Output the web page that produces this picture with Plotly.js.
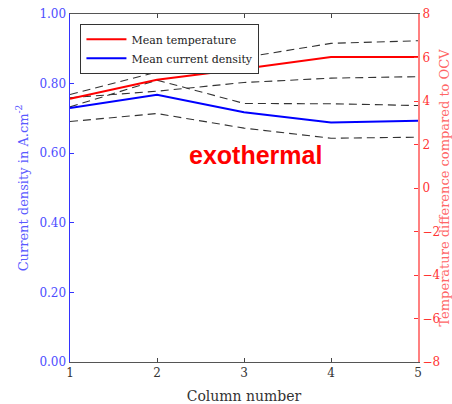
<!DOCTYPE html>
<html>
<head>
<meta charset="utf-8">
<script src="https://cdn.plot.ly/plotly-3.0.1.min.js"></script>
<style>
  html, body { margin: 0; padding: 0; background: #ffffff; }
  #chart { width: 452px; height: 404px; }
</style>
</head>
<body>
<div id="chart"></div>
<script>
// Column positions along the cell
const columns = [1, 2, 3, 4, 5];

// Mean current density (A.cm-2) with its upper / lower spread
const meanCurrent = [0.730, 0.768, 0.718, 0.688, 0.693];
const currentUpper = [0.733, 0.810, 0.743, 0.742, 0.737];
const currentLower = [0.691, 0.714, 0.672, 0.643, 0.646];

// Mean temperature difference vs OCV (K) with its upper / lower spread
const meanTemp = [4.10, 4.98, 5.48, 6.02, 6.02];
const tempUpper = [4.30, 5.33, 6.00, 6.65, 6.77];
const tempLower = [4.15, 4.45, 4.85, 5.05, 5.12];

const leftTicks = [0, 0.2, 0.4, 0.6, 0.8, 1.0];
const rightTicks = [-8, -6, -4, -2, 0, 2, 4, 6, 8];

const serif = "'DejaVu Serif', serif";
const dashStyle = { color: "#333333", width: 1.1, dash: "8px,5px" };

const traces = [
  { x: columns, y: tempUpper, yaxis: "y2", mode: "lines", line: dashStyle, showlegend: false, hoverinfo: "skip" },
  { x: columns, y: tempLower, yaxis: "y2", mode: "lines", line: dashStyle, showlegend: false, hoverinfo: "skip" },
  { x: columns, y: currentUpper, yaxis: "y", mode: "lines", line: dashStyle, showlegend: false, hoverinfo: "skip" },
  { x: columns, y: currentLower, yaxis: "y", mode: "lines", line: dashStyle, showlegend: false, hoverinfo: "skip" },
  { x: columns, y: meanTemp, yaxis: "y2", mode: "lines", name: "Mean temperature",
    line: { color: "#ff0000", width: 2 } },
  { x: columns, y: meanCurrent, yaxis: "y", mode: "lines", name: "Mean current density",
    line: { color: "#0000ff", width: 2 } }
];

const layout = {
  width: 452,
  height: 404,
  margin: { l: 70, r: 34, t: 14, b: 42 },
  paper_bgcolor: "#ffffff",
  plot_bgcolor: "#ffffff",
  font: { family: serif, size: 12, color: "#333333" },
  showlegend: true,
  legend: {
    x: 0.03, y: 0.972, xanchor: "left", yanchor: "top",
    bgcolor: "#ffffff", bordercolor: "#333333", borderwidth: 1,
    font: { family: serif, size: 11, color: "#222222" },
    tracegroupgap: 0, itemwidth: 40
  },
  xaxis: {
    range: [1, 5],
    tickvals: columns,
    ticks: "inside", ticklen: 4, tickcolor: "#444444",
    showline: true, linecolor: "#555555", linewidth: 1, mirror: "ticks",
    showgrid: false, zeroline: false,
    tickfont: { family: serif, size: 12, color: "#333333" },
    title: { text: "Column number", font: { family: serif, size: 14, color: "#333333" }, standoff: 12 }
  },
  yaxis: {
    range: [0, 1],
    tickvals: leftTicks, tickformat: ".2f",
    ticks: "inside", ticklen: 4, tickcolor: "#3333ff",
    showline: true, linecolor: "#3333ff", linewidth: 1.5,
    showgrid: false, zeroline: false,
    tickfont: { family: serif, size: 12, color: "#4d4dff" },
    title: { text: "Current density in A.cm<sup>-2</sup>", font: { family: serif, size: 13, color: "#5a5aff" }, standoff: 8 }
  },
  yaxis2: {
    range: [-8, 8],
    tickvals: rightTicks,
    overlaying: "y", side: "right",
    ticks: "inside", ticklen: 4, tickcolor: "#ff3333",
    showline: true, linecolor: "#ff8080", linewidth: 2,
    showgrid: false, zeroline: false,
    tickfont: { family: serif, size: 12, color: "#ff3333" },
    title: { text: "Temperature difference compared to OCV", font: { family: serif, size: 13, color: "#ff6666" }, standoff: 2 }
  },
  annotations: [
    {
      xref: "paper", yref: "paper", x: 0.532, y: 0.595,
      xanchor: "center", yanchor: "middle", showarrow: false,
      text: "<b>exothermal</b>",
      font: { family: "Liberation Sans, Arial, sans-serif", size: 25, color: "#ff0000" }
    }
  ]
};

Plotly.newPlot("chart", traces, layout, { displayModeBar: false, staticPlot: true });
</script>
</body>
</html>
